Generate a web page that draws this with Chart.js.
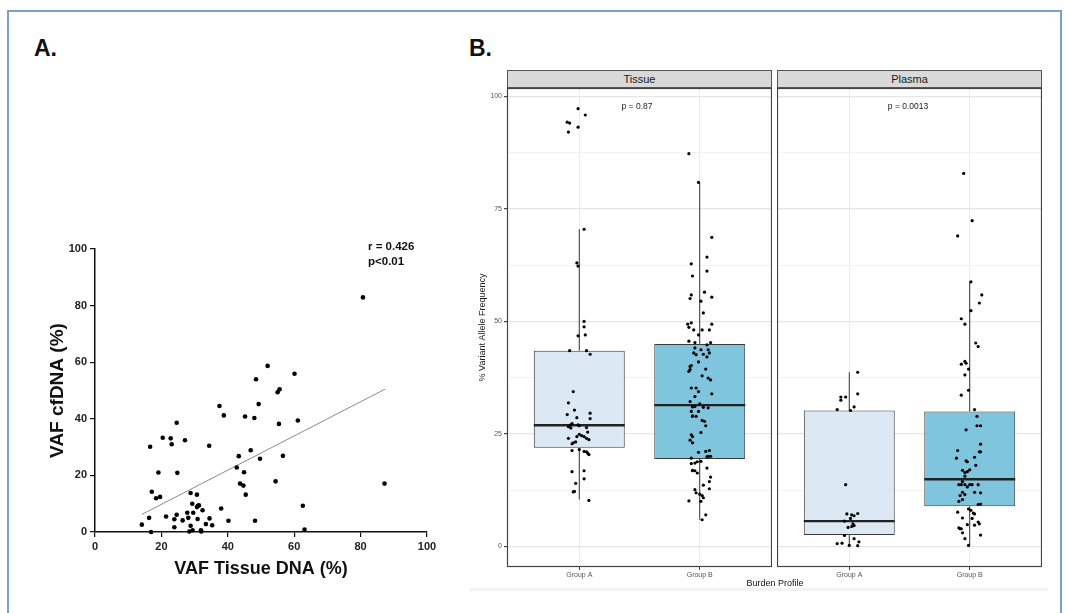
<!DOCTYPE html>
<html>
<head>
<meta charset="utf-8">
<script src="https://cdn.jsdelivr.net/npm/chart.js@4.4.1/dist/chart.umd.min.js"></script>
<style>
    body { margin: 0; background: #fff; width: 1065px; height: 613px; overflow: hidden; position: relative; font-family: "Liberation Sans", Arial, sans-serif; }
    .frame { position: absolute; left: 7px; top: 10px; width: 1051px; height: 620px; border: 2px solid #7aa3c3; }
    .panel-lbl { position: absolute; font-weight: bold; font-size: 23px; line-height: 1; color: #111; }
    canvas { position: absolute; }
    .strip { position: absolute; top: 70px; height: 18px; width: 265px; background: #d9d9d9; border: 1px solid #555; box-sizing: border-box; font-size: 11px; color: #1a1a1a; text-align: center; line-height: 16px; }
    .note { position: absolute; font-size: 8.5px; color: #222; transform: translateX(-50%); white-space: nowrap; }
    .stat { position: absolute; left: 368px; top: 239px; font-size: 11.5px; font-weight: bold; line-height: 15px; color: #111; }
    .band { position: absolute; left: 470px; top: 588px; width: 578px; height: 3px; background: #f3f3f3; }
</style>
</head>
<body>
<div class="frame"></div>
<div class="panel-lbl" style="left:34px; top:37px;">A.</div>
<div class="panel-lbl" style="left:469px; top:37px;">B.</div>

<canvas id="scatterA" width="418" height="354" style="left:42px; top:230px;"></canvas>
<div class="stat">r = 0.426<br>p&lt;0.01</div>

<div class="band"></div>
<div class="strip" style="left:507px;">Tissue</div>
<div class="strip" style="left:777px;">Plasma</div>
<canvas id="tissueB" width="302" height="499" style="left:470px; top:88px;"></canvas>
<canvas id="plasmaB" width="265" height="499" style="left:777px; top:88px;"></canvas>
<div class="note" style="left:637px; top:101px;">p = 0.87</div>
<div class="note" style="left:908px; top:101px;">p = 0.0013</div>
<div class="note" style="left:775px; top:578px; font-size:9px; color:#111;">Burden Profile</div>

<script>
// ---- Panel A: VAF tissue DNA vs VAF cfDNA ----
const tissueVaf = [14.1, 16.3, 16.9, 16.6, 17.1, 18.4, 19.1, 19.6, 20.4, 21.4, 22.8, 23.1, 23.9, 23.9, 24.6, 24.8, 24.6,
    26.4, 27.1, 27.8, 28.1, 28.4, 28.8, 28.8, 29.3, 29.6, 29.4, 30.7, 30.7, 30.9, 31.0, 31.3, 31.9, 32.0, 32.4, 33.4,
    34.4, 34.5, 35.3, 37.5, 38.0, 38.8, 40.2, 42.7, 43.3, 43.7, 44.7, 44.9, 45.2, 45.4, 46.9, 48.0, 48.2, 48.5, 49.3,
    49.7, 52.0, 54.4, 55.0, 55.6, 55.4, 56.6, 60.1, 61.1, 62.6, 63.1, 80.7, 87.2];
const cfdnaVaf = [2.6, 5.0, 0, 30.1, 14.2, 11.9, 21.0, 12.4, 33.3, 5.5, 33.1, 31.0, 4.5, 1.7, 38.6, 20.9, 6.1,
    4.1, 32.4, 6.8, 5.0, 0.2, 13.8, 2.2, 10.0, 6.8, 0.6, 13.2, 8.8, 4.6, 9.3, 9.4, 0.6, 0.2, 7.7, 2.8,
    30.5, 4.8, 2.4, 44.5, 8.3, 41.2, 4.0, 22.8, 26.8, 17.1, 16.4, 21.1, 40.8, 13.2, 28.9, 40.3, 4.0, 54.0, 45.2,
    25.9, 58.7, 17.9, 49.4, 50.4, 38.2, 26.9, 55.9, 39.4, 9.3, 0.9, 82.9, 17.1];
const fitX = [14.1, 87.4];
const fitY = [6.2, 50.5];

// ---- Panel B: boxplots by burden profile ----
const groups = ['Group A', 'Group B'];
const boxFills = ['#dce9f5', '#80c5de'];

const tissueLow = [10.4, 5.9];
const tissueQ1 = [21.9, 19.4];
const tissueMed = [26.9, 31.4];
const tissueQ3 = [43.5, 45.0];
const tissueHigh = [70.5, 80.9];

const plasmaLow = [0.2, 0.2];
const plasmaQ1 = [2.5, 8.9];
const plasmaMed = [5.6, 14.9];
const plasmaQ3 = [30.2, 30.0];
const plasmaHigh = [38.7, 58.8];

// jittered points: value + horizontal offset from the group centre
const tissueA = [97.3, 95.9, 94.3, 94.1, 93.2, 92.1, 70.5, 63.0, 62.3, 50.0, 48.8, 46.8, 47.0, 43.5, 43.5, 42.7, 34.4,
    31.9, 30.3, 29.3, 29.6, 28.6, 28.4, 27.3, 27.0, 26.6, 27.0, 26.8, 26.4, 26.3, 25.4, 24.9, 24.4, 24.4, 24.6, 24.0,
    24.0, 23.7, 23.2, 22.8, 23.0, 21.3, 21.5, 21.1, 21.0, 20.7, 20.4, 16.6, 16.8, 15.0, 14.0, 12.2, 12.1, 10.2];
const tissueAJit = [-0.01, 0.05, -0.10, -0.08, -0.01, -0.09, 0.04, -0.02, -0.01, 0.04, 0.04, -0.01, 0.05, -0.08, 0.06, 0.09, -0.05,
    -0.09, -0.04, -0.10, 0.09, -0.02, 0.09, -0.06, -0.07, -0.09, -0.01, 0.00, 0.06, -0.07, 0.07, 0.00, -0.02, 0.04, 0.02, -0.09,
    0.06, 0.08, -0.03, -0.06, -0.05, -0.06, 0.00, 0.04, 0.06, 0.07, 0.08, -0.06, 0.04, 0.04, -0.03, -0.04, -0.05, 0.08];

const tissueB = [87.3, 80.9, 68.7, 64.3, 62.8, 61.2, 60.1, 56.5, 55.9, 55.1, 55.4, 54.5, 51.9, 49.7, 49.4, 48.7, 49.4, 48.1,
    48.1, 48.1, 47.0, 45.6, 45.3, 45.3, 44.1, 44.8, 43.0, 43.7, 43.7, 42.7, 42.6, 43.0, 42.1, 41.0, 40.0, 40.2, 38.9, 39.3,
    39.4, 37.9, 37.4, 37.0, 35.2, 35.2, 34.4, 33.3, 33.9, 32.2, 31.7, 31.1, 31.0, 30.9, 30.8, 30.0, 30.0, 29.0, 28.9, 28.9,
    28.0, 27.8, 26.8, 25.3, 24.8, 24.4, 23.6, 23.0, 20.9, 21.1, 21.3, 19.9, 20.0, 20.0, 19.6, 18.9, 18.8, 18.4, 18.5, 17.4,
    16.9, 16.8, 16.8, 16.3, 15.4, 14.4, 13.6, 12.8, 12.6, 11.9, 11.6, 11.3, 10.8, 10.0, 10.1, 7.0, 5.9];
const tissueBJit = [-0.09, -0.01, 0.10, 0.06, -0.07, 0.06, -0.06, 0.04, -0.07, -0.08, 0.10, 0.01, 0.03, -0.07, -0.10, -0.09, 0.10, -0.05,
    0.02, 0.08, -0.01, -0.09, -0.04, 0.09, -0.04, 0.06, -0.05, 0.01, 0.07, 0.03, -0.03, 0.08, 0.06, -0.01, -0.08, -0.07, -0.09, -0.08,
    0.05, 0.02, 0.07, 0.09, -0.07, -0.03, -0.01, -0.04, 0.10, -0.08, 0.00, -0.04, -0.06, 0.03, 0.07, -0.07, -0.01, -0.06, -0.03, -0.06,
    0.02, 0.04, 0.05, 0.01, -0.07, -0.06, -0.08, -0.06, -0.01, 0.05, 0.08, 0.06, 0.07, 0.09, -0.07, 0.01, -0.02, -0.07, -0.04, 0.06,
    -0.06, -0.06, -0.04, -0.02, 0.09, 0.08, 0.03, 0.08, -0.04, -0.03, 0.00, 0.02, 0.03, 0.01, -0.09, 0.05, 0.02];

const plasmaA = [38.7, 33.9, 33.2, 33.2, 32.5, 31.0, 30.4, 30.2, 13.7, 7.2, 7.0, 7.3, 6.8, 6.2, 5.6, 5.0, 4.6, 4.2, 4.4,
    2.4, 1.7, 1.0, 0.6, 0.7, 0.2, 0.15];
const plasmaAJit = [0.07, 0.07, -0.07, -0.03, -0.07, 0.04, -0.10, 0.01, -0.03, -0.02, 0.02, 0.07, 0.04, 0.01, -0.04, 0.03, 0.04, -0.01, 0.02,
    -0.04, 0.04, 0.08, -0.10, -0.06, 0.00, 0.07];

const plasmaB = [82.9, 72.4, 69.0, 58.8, 55.9, 54.1, 52.4, 50.6, 49.4, 45.2, 44.4, 40.5, 41.1, 40.7, 39.4, 38.1, 34.7, 33.6,
    30.4, 28.9, 25.9, 26.8, 26.8, 22.7, 21.3, 21.0, 21.0, 19.6, 19.0, 18.8, 19.8, 18.0, 16.9, 16.4, 16.6, 17.0, 15.6, 14.4,
    13.7, 13.7, 13.7, 13.7, 13.7, 13.7, 13.2, 12.0, 12.0, 11.9, 11.3, 11.5, 10.4, 10.0, 9.3, 9.4, 7.6, 8.3, 8.0, 7.4, 7.2,
    6.3, 6.2, 5.4, 4.1, 3.9, 3.9, 4.8, 4.7, 5.0, 3.0, 2.5, 1.7, 0.2];
const plasmaBJit = [-0.05, 0.02, -0.10, 0.01, 0.10, 0.08, 0.01, -0.07, -0.04, 0.05, 0.07, -0.07, -0.04, -0.03, -0.01, -0.04, -0.01, -0.07,
    0.04, 0.06, -0.03, 0.06, 0.09, 0.09, -0.10, 0.08, 0.09, -0.11, -0.03, -0.02, 0.04, 0.05, -0.06, -0.04, -0.02, 0.00, -0.04, -0.06,
    -0.09, -0.07, -0.04, 0.00, 0.02, 0.07, -0.02, -0.06, 0.04, 0.09, -0.08, -0.04, -0.06, -0.09, 0.07, 0.09, -0.10, -0.01, 0.01, 0.03, 0.04,
    -0.06, 0.02, 0.07, -0.09, -0.08, -0.07, -0.02, 0.04, 0.08, -0.06, 0.09, -0.04, -0.01];

Chart.defaults.font.family = '"Liberation Sans", Arial, sans-serif';
Chart.defaults.animation = false;
Chart.defaults.events = [];
Chart.defaults.plugins.legend.display = false;
Chart.defaults.plugins.tooltip.enabled = false;

// ---------- Panel A ----------
new Chart(document.getElementById('scatterA'), {
    type: 'scatter',
    data: {
        datasets: [
            {
                data: tissueVaf.map((x, i) => ({ x: x, y: cfdnaVaf[i] })),
                backgroundColor: '#000', borderWidth: 0, pointRadius: 2.3, hoverRadius: 0, clip: false
            },
            {
                data: fitX.map((x, i) => ({ x: x, y: fitY[i] })),
                showLine: true, pointRadius: 0, hoverRadius: 0, borderColor: '#8c8c8c', borderWidth: 1
            }
        ]
    },
    options: {
        responsive: false,
        layout: { autoPadding: false, padding: { top: 19, right: 33, left: 0, bottom: 0 } },
        scales: {
            x: {
                min: 0, max: 100,
                ticks: { stepSize: 20, color: '#222', padding: 3, font: { size: 11, weight: 'bold' } },
                grid: { drawOnChartArea: false, tickLength: 5, color: '#111', lineWidth: 1.2 },
                border: { color: '#111', width: 1.5 },
                title: { display: true, text: 'VAF Tissue DNA (%)', color: '#111', font: { size: 18, weight: 'bold' }, padding: { top: 4, bottom: 4 } },
                afterFit: s => { s.height = 52; }
            },
            y: {
                min: 0, max: 100,
                ticks: { stepSize: 20, color: '#222', padding: 3, font: { size: 11, weight: 'bold' } },
                grid: { drawOnChartArea: false, tickLength: 5, color: '#111', lineWidth: 1.2 },
                border: { color: '#111', width: 1.5 },
                title: { display: true, text: 'VAF cfDNA (%)', color: '#111', font: { size: 19, weight: 'bold' }, padding: { top: 4, bottom: 4 } },
                afterFit: s => { s.width = 53; }
            }
        }
    }
});

// ---------- Panel B ----------
const panelBorder = {
    id: 'panelBorder',
    afterDraw(chart) {
        const a = chart.chartArea, ctx = chart.ctx;
        ctx.save();
        ctx.strokeStyle = '#444';
        ctx.lineWidth = 1.2;
        ctx.strokeRect(a.left + 0.5, a.top + 0.5, a.right - a.left - 1, a.bottom - a.top - 1);
        ctx.restore();
    }
};

const HALF_BOX = 0.3775;

function facetDatasets(low, q1, med, q3, high, ptsA, jitA, ptsB, jitB) {
    const whisk = [], meds = [];
    groups.forEach((g, i) => {
        const c = i + 1;
        whisk.push({ x: c, y: q3[i] }, { x: c, y: high[i] }, { x: c + 0.5, y: null },
                   { x: c, y: low[i] }, { x: c, y: q1[i] }, { x: c + 0.5, y: null });
        meds.push({ x: c - HALF_BOX, y: med[i] }, { x: c + HALF_BOX, y: med[i] }, { x: c + 0.5, y: null });
    });
    const pts = ptsA.map((v, i) => ({ x: 1 + jitA[i], y: v }))
        .concat(ptsB.map((v, i) => ({ x: 2 + jitB[i], y: v })));
    return [
        { type: 'scatter', data: pts, backgroundColor: '#000', borderWidth: 0, pointRadius: 1.6, hoverRadius: 0, order: 0 },
        { type: 'scatter', data: meds, showLine: true, pointRadius: 0, hoverRadius: 0, borderColor: '#222', borderWidth: 2.4, order: 1 },
        {
            type: 'bar', data: groups.map((g, i) => ({ x: i + 1, y: [q1[i], q3[i]] })),
            backgroundColor: boxFills, borderColor: '#3a3a3a', borderWidth: 1, borderSkipped: false,
            barPercentage: 0.755, categoryPercentage: 1, grouped: false, order: 2
        },
        { type: 'scatter', data: whisk, showLine: true, pointRadius: 0, hoverRadius: 0, borderColor: '#333', borderWidth: 1, order: 3 }
    ];
}

function noPad(s) {
    s.paddingLeft = 0; s.paddingRight = 0; s.paddingTop = 0; s.paddingBottom = 0;
}

function facetOptions(showY) {
    return {
        responsive: false,
        layout: { autoPadding: false, padding: 0 },
        scales: {
            x: {
                type: 'linear', min: 0.4, max: 2.6, offset: false,
                afterBuildTicks: axis => { axis.ticks = [{ value: 1 }, { value: 2 }]; },
                ticks: { callback: v => groups[v - 1], color: '#555', padding: 1, font: { size: 7 }, autoSkip: false, maxRotation: 0 },
                grid: { offset: false, color: '#ebebeb', lineWidth: 1, tickLength: 3, tickColor: '#444' },
                border: { display: false },
                afterFit: s => { s.height = 20; noPad(s); }
            },
            y: {
                min: -4.6, max: 101.9,
                ticks: {
                    display: showY, stepSize: 12.5, includeBounds: false, color: '#555', padding: 2, font: { size: 7 },
                    callback: v => (v % 25 === 0 ? v : '')
                },
                grid: {
                    drawTicks: showY, tickLength: 3,
                    color: c => (c.tick && c.tick.value % 25 === 0 ? '#e6e6e6' : '#f1f1f1'),
                    lineWidth: c => (c.tick && c.tick.value % 25 === 0 ? 1.2 : 0.9),
                    tickColor: c => (c.tick && c.tick.value % 25 === 0 ? '#444' : 'rgba(0,0,0,0)')
                },
                border: { display: false },
                title: { display: showY, text: '% Variant Allele Frequency', color: '#1a1a1a', font: { size: 9 }, padding: { top: 7, bottom: 0 } },
                afterFit: s => { s.width = showY ? 37 : 0; noPad(s); }
            }
        }
    };
}

new Chart(document.getElementById('tissueB'), {
    type: 'bar',
    data: { datasets: facetDatasets(tissueLow, tissueQ1, tissueMed, tissueQ3, tissueHigh, tissueA, tissueAJit, tissueB, tissueBJit) },
    options: facetOptions(true),
    plugins: [panelBorder]
});

new Chart(document.getElementById('plasmaB'), {
    type: 'bar',
    data: { datasets: facetDatasets(plasmaLow, plasmaQ1, plasmaMed, plasmaQ3, plasmaHigh, plasmaA, plasmaAJit, plasmaB, plasmaBJit) },
    options: facetOptions(false),
    plugins: [panelBorder]
});
</script>
</body>
</html>
